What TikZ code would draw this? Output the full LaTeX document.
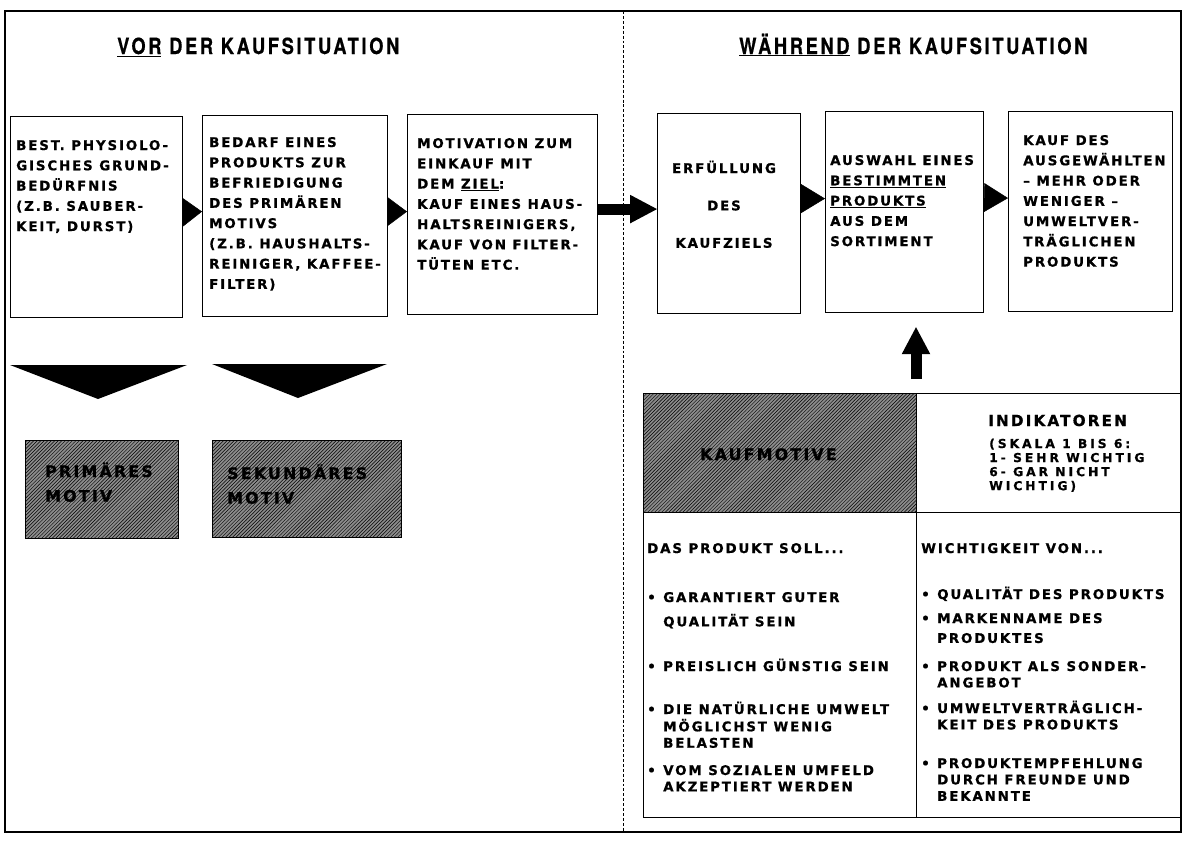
\documentclass[tikz,border=0pt]{standalone}
\usepackage{fontspec}
\setmainfont{DejaVu Sans}
\newfontfamily\boxfont{DejaVu Sans}[LetterSpace=14, BoldFeatures={FakeBold=0.8}]
\newfontfamily\widefont{DejaVu Sans}[LetterSpace=24, BoldFeatures={FakeBold=0.8}]
\newfontfamily\headfont{TeX Gyre Heros}[LetterSpace=12, FakeStretch=0.82, BoldFeatures={FakeBold=0.6}]
\usetikzlibrary{arrows.meta, patterns, calc}

\newcommand{\boxlines}[1]{\begin{tabular}[t]{@{}l@{}}#1\end{tabular}}
\newcommand{\bulletitem}[1]{\makebox[0.48cm][l]{•}\boxlines{#1}}

\begin{document}
\begin{tikzpicture}[x=0.03cm, y=-0.03cm]

  \tikzstyle{stepbox} = [rectangle, anchor=north west, inner sep=0pt, draw=black, line width=1pt]
  \tikzstyle{motivbox} = [stepbox, fill=black!45, postaction={pattern=north east lines, pattern color=black}]
  \tikzstyle{boxtext} = [anchor=base west, inner sep=0pt, font=\boxfont\bfseries\fontsize{11.4}{17.3}\selectfont]
  \tikzstyle{tabtext} = [boxtext, font=\boxfont\bfseries\fontsize{11.4}{14}\selectfont]
  \tikzstyle{motivtext} = [boxtext, font=\boxfont\bfseries\fontsize{13.5}{21}\selectfont]
  \tikzstyle{headline} = [anchor=base west, inner sep=0pt, font=\headfont\bfseries\fontsize{19}{22}\selectfont]

  \tikzstyle{tri} = [-{Triangle[length=0.58cm, width=0.86cm]}]
  \tikzstyle{trir} = [-{Triangle[length=0.72cm, width=0.87cm]}]
  \tikzstyle{bigarrow} = [line width=0.33cm, -{Triangle[length=0.81cm, width=0.86cm, line width=0pt]}]

  \useasboundingbox (0,0) rectangle (1182,840);

  % frame and divider
  \draw [line width=1.3pt] (5,11) rectangle (1181,832);
  \draw [line width=0.8pt, dash pattern=on 2.5pt off 1.7pt] (623,11) -- (623,832);

  \node (vor) [headline] at (117,54) {\underline{VOR} DER KAUFSITUATION};
  \node (waehrend) [headline] at (739,54) {\underline{WÄHREND} DER KAUFSITUATION};

  % process boxes
  \node (b1) [stepbox, minimum width=5.16cm, minimum height=6.03cm] at (10,116) {};
  \node (b2) [stepbox, minimum width=5.55cm, minimum height=6.03cm] at (202,115) {};
  \node (b3) [stepbox, minimum width=5.70cm, minimum height=6.00cm] at (407,114) {};
  \node (b4) [stepbox, minimum width=4.29cm, minimum height=6.00cm] at (657,113) {};
  \node (b5) [stepbox, minimum width=4.74cm, minimum height=6.03cm] at (825,111) {};
  \node (b6) [stepbox, minimum width=4.92cm, minimum height=6.00cm] at (1008,111) {};

  \node (t1) [boxtext] at (16,150) {\boxlines{BEST. PHYSIOLO-\\GISCHES GRUND-\\BEDÜRFNIS\\(Z.B. SAUBER-\\KEIT, DURST)}};
  \node (t2) [boxtext] at (209,147) {\boxlines{BEDARF EINES\\PRODUKTS ZUR\\BEFRIEDIGUNG\\DES PRIMÄREN\\MOTIVS\\(Z.B. HAUSHALTS-\\REINIGER, KAFFEE-\\FILTER)}};
  \node (t3) [boxtext] at (417,148) {\boxlines{MOTIVATION ZUM\\EINKAUF MIT\\DEM \underline{ZIEL}:\\KAUF EINES HAUS-\\HALTSREINIGERS,\\KAUF VON FILTER-\\TÜTEN ETC.}};
  \node (t4) [boxtext, anchor=base, font=\boxfont\bfseries\fontsize{11.4}{31.9}\selectfont] at (724,173) {\begin{tabular}[t]{@{}c@{}}ERFÜLLUNG\\DES\\KAUFZIELS\end{tabular}};
  \node (t5) [boxtext] at (830,165) {\boxlines{AUSWAHL EINES\\\underline{BESTIMMTEN}\\\underline{PRODUKTS}\\AUS DEM\\SORTIMENT}};
  \node (t6) [boxtext] at (1023,145) {\boxlines{KAUF DES\\AUSGEWÄHLTEN\\– MEHR ODER\\WENIGER –\\UMWELTVER-\\TRÄGLICHEN\\PRODUKTS}};

  \draw [tri] ($(b1.east)+(0,-5)$) -- ($(b2.west)+(0,-4.5)$);
  \draw [tri] ($(b2.east)+(0,-4.5)$) -- ($(b3.west)+(0,-3)$);
  \draw [bigarrow] ($(b3.east)+(0,-5.5)$) -- ($(b4.west)+(0,-4.5)$);
  \draw [trir] ($(b4.east)+(0,-15)$) -- ($(b5.west)+(0,-13.5)$);
  \draw [trir] ($(b5.east)+(0,-14.5)$) -- ($(b6.west)+(0,-13.5)$);

  % motives
  \fill (10,365) -- (187,365) -- (98,399) -- cycle;
  \fill (212,364) -- (387,364) -- (298,398) -- cycle;

  \node (prim) [motivbox, minimum width=4.59cm, minimum height=2.94cm] at (25,440) {};
  \node (sek) [motivbox, minimum width=5.67cm, minimum height=2.91cm] at (212,440) {};
  \node (primtext) [motivtext] at (45,477) {\boxlines{PRIMÄRES\\MOTIV}};
  \node (sektext) [motivtext] at (227,479) {\boxlines{SEKUNDÄRES\\MOTIV}};

  % table
  \node (kauf) [motivbox, minimum width=8.19cm, minimum height=3.57cm] at (643,393) {};
  \node (ind) [stepbox, minimum width=7.92cm, minimum height=3.57cm] at (916,393) {};
  \node (soll) [stepbox, minimum width=8.19cm, minimum height=9.15cm] at (643,512) {};
  \node (wicht) [stepbox, minimum width=7.92cm, minimum height=9.15cm] at (916,512) {};

  \node (kauftext) [motivtext] at (700,460) {KAUFMOTIVE};
  \node (indtext) [boxtext, font=\boxfont\bfseries\fontsize{13}{15}\selectfont] at (988,426) {INDIKATOREN};
  \node (skala) [boxtext, font=\widefont\bfseries\fontsize{10.5}{12}\selectfont] at (989,448) {\boxlines{(SKALA 1 BIS 6:\\1- SEHR WICHTIG\\6- GAR NICHT\\WICHTIG)}};

  \draw [bigarrow, shorten <=0.42cm, shorten >=0.42cm] (ind.north west) -- (ind.north west |- b5.south);

  \node (sollhead) [tabtext] at (647,553) {DAS PRODUKT SOLL...};
  \node (s1) [tabtext] at (647,602) {\bulletitem{GARANTIERT GUTER\\[6pt]QUALITÄT SEIN}};
  \node (s2) [tabtext] at (647,671) {\bulletitem{PREISLICH GÜNSTIG SEIN}};
  \node (s3) [tabtext] at (647,714) {\bulletitem{DIE NATÜRLICHE UMWELT\\MÖGLICHST WENIG\\BELASTEN}};
  \node (s4) [tabtext] at (647,775) {\bulletitem{VOM SOZIALEN UMFELD\\AKZEPTIERT WERDEN}};

  \node (wichthead) [tabtext] at (921,553) {WICHTIGKEIT VON...};
  \node (w1) [tabtext] at (921,599) {\bulletitem{QUALITÄT DES PRODUKTS}};
  \node (w2) [tabtext] at (921,623) {\bulletitem{MARKENNAME DES\\[3pt]PRODUKTES}};
  \node (w3) [tabtext] at (921,671) {\bulletitem{PRODUKT ALS SONDER-\\ANGEBOT}};
  \node (w4) [tabtext] at (921,713) {\bulletitem{UMWELTVERTRÄGLICH-\\KEIT DES PRODUKTS}};
  \node (w5) [tabtext] at (921,768) {\bulletitem{PRODUKTEMPFEHLUNG\\DURCH FREUNDE UND\\BEKANNTE}};

\end{tikzpicture}
\end{document}
